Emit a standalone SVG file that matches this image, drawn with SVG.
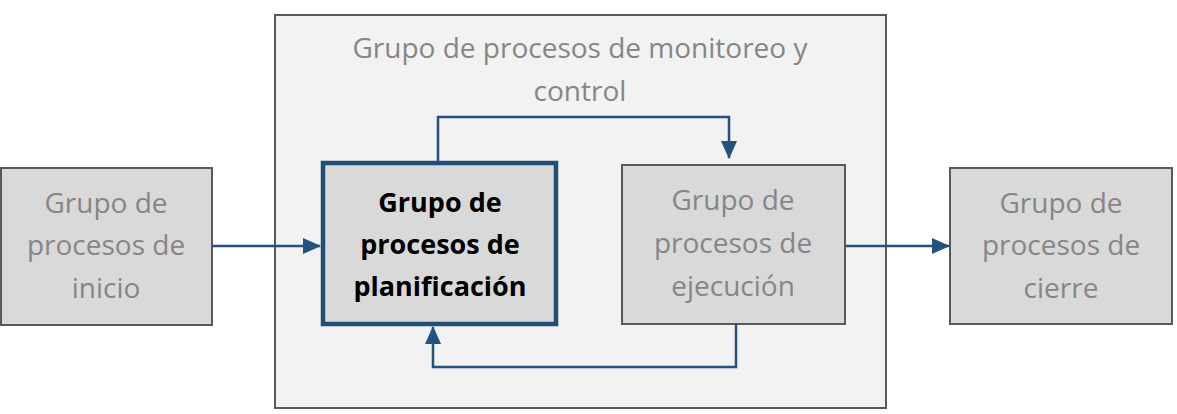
<svg xmlns="http://www.w3.org/2000/svg" width="1177" height="414" viewBox="0 0 1177 414">
<style>
.box{fill:#d9d9d9;stroke:#595959;stroke-width:2}
.t{font-family:"Open Sans","Liberation Sans",sans-serif;font-size:28px;fill:#868686;text-anchor:middle}
.b{font-weight:bold;fill:#000;font-size:27px}
.c{fill:none;stroke:#23527f;stroke-width:2.5}
</style>
<defs>
<marker id="ah2" markerWidth="18" markerHeight="16" refX="17" refY="8" orient="auto" markerUnits="userSpaceOnUse" viewBox="0 0 18 16">
<path d="M0,0 L18,8 L0,16 Z" fill="#23527f"/>
</marker>
</defs>
<g id="monitoreo">
<rect x="275" y="15" width="611" height="393" fill="#f2f2f2" stroke="#595959" stroke-width="2"/>
<text class="t" x="580" y="58">Grupo de procesos de monitoreo y</text>
<text class="t" x="580" y="101">control</text>
</g>
<g id="inicio">
<rect class="box" x="1" y="168" width="211" height="157"/>
<text class="t" x="106" y="213">Grupo de</text>
<text class="t" x="106" y="255">procesos de</text>
<text class="t" x="106" y="298">inicio</text>
</g>
<g id="planificacion">
<rect x="323" y="163" width="233" height="161" fill="#d9d9d9" stroke="#1f4e79" stroke-width="4.5"/>
<text class="t b" x="440" y="212">Grupo de</text>
<text class="t b" x="440" y="254">procesos de</text>
<text class="t b" x="440" y="296">planificación</text>
</g>
<g id="ejecucion">
<rect class="box" x="622" y="165" width="223" height="159"/>
<text class="t" x="733" y="210">Grupo de</text>
<text class="t" x="733" y="253">procesos de</text>
<text class="t" x="733" y="296">ejecución</text>
</g>
<g id="cierre">
<rect class="box" x="950" y="168" width="222" height="156"/>
<text class="t" x="1061" y="213">Grupo de</text>
<text class="t" x="1061" y="255">procesos de</text>
<text class="t" x="1061" y="298">cierre</text>
</g>
<g id="connectors">
<path class="c" d="M212,246 H320" marker-end="url(#ah2)"/>
<path class="c" d="M438,161 V117 H729 V158" marker-end="url(#ah2)"/>
<path class="c" d="M736,324 V367 H433 V327" marker-end="url(#ah2)"/>
<path class="c" d="M845,246 H949" marker-end="url(#ah2)"/>
</g>
</svg>
